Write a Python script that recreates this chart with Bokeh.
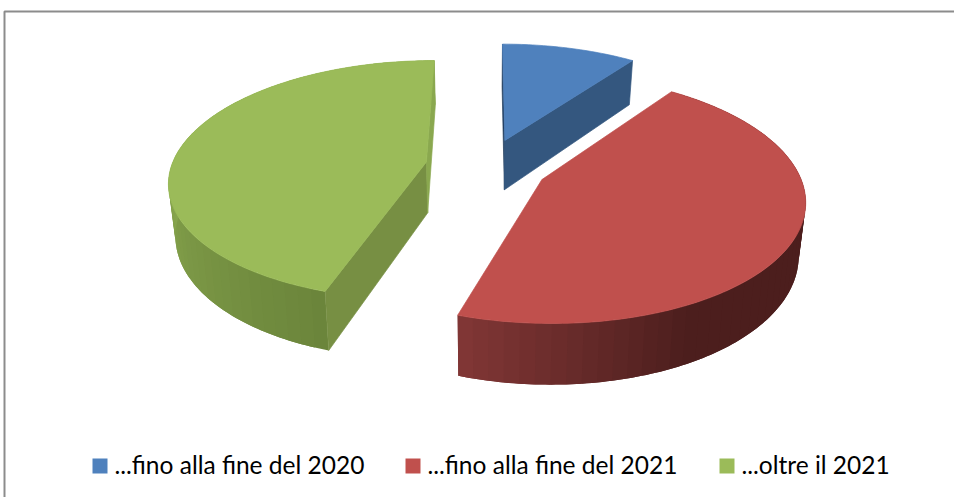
import numpy as np
from bokeh.plotting import figure
from bokeh.models import Range1d
from bokeh.core.properties import value
from bokeh.embed import file_html
from bokeh.resources import INLINE

# data
labels = ["...fino alla fine del 2020", "...fino alla fine del 2021", "...oltre il 2021"]
values = [10, 45, 45]

# style
TOP = ["#4f81bd", "#c0504d", "#9bbb59"]
RADIAL_START = ["#213d5f", None, "#778f43"]
RADIAL_END = ["#34577f", None, "#8aa84f"]
RIM_FROM = {1: (198, "#823736"), 2: (198, "#6b853b")}
RIM_TO = {1: (152, "#4c1e1d"), 2: (270, "#88a64e")}

X0, Y0, A, B, P, D, F, EXPLODE = 486, 166, 255, 118, 0.15, 51, 0.978, 0.24


def project(u, v):
    s = 1 / (1 + P * v)
    return X0 + A * u * s, Y0 - B * v * s, s


def hex2rgb(c):
    return np.array([int(c[i:i + 2], 16) for i in (1, 3, 5)], dtype=float)


def lerp(c1, c2, t):
    r = hex2rgb(c1) * (1 - t) + hex2rgb(c2) * t
    return "#%02x%02x%02x" % tuple(int(round(a)) for a in r)


W, H = 954, 497
p = figure(width=W, height=H, output_backend="svg", toolbar_location=None,
           x_range=Range1d(0, W), y_range=Range1d(H, 0), min_border=0,
           x_axis_location=None, y_axis_location=None, outline_line_color=None)
p.grid.visible = False
p.background_fill_color = "white"

# chart frame
p.line([4, 4, W], [H, 11, 11], line_color="#8c8c8c", line_width=2)

fractions = np.array(values, dtype=float) / sum(values)
edges = np.concatenate([[0], np.cumsum(fractions)]) * 360

for i in (0, 2, 1):
    a0, a1 = edges[i], edges[i + 1]
    mid = np.radians((a0 + a1) / 2)
    ou, ov = EXPLODE * np.sin(mid), EXPLODE * np.cos(mid)
    th = np.radians(np.linspace(a0, a1, int(a1 - a0) + 1))
    x, y, s = project(ou + np.sin(th), ov + np.cos(th))
    xc, yc, sc = project(ou, ov)
    xb = X0 + (x - X0) * F
    yb = y + D * s
    xcb = X0 + (xc - X0) * F
    ycb = yc + D * sc

    # rim: overlapping bands painted in order, so no seams show
    if i in RIM_FROM:
        (af, cf), (at, ct) = RIM_FROM[i], RIM_TO[i]
        step = 3
        for k in range(0, len(th) - 1, step):
            e = min(k + 2 * step, len(th) - 1)
            deg = np.degrees(th[min(k + step // 2, len(th) - 1)])
            t = np.clip((deg - af) / (at - af), 0, 1)
            col = lerp(cf, ct, t)
            xs = np.r_[x[k:e + 1], xb[k:e + 1][::-1]]
            ys = np.r_[y[k:e + 1], yb[k:e + 1][::-1]]
            p.patch(xs, ys, fill_color=col, line_color=None)

    # radial faces
    if RADIAL_START[i]:
        p.patch([xc, x[0], xb[0], xcb], [yc, y[0], yb[0], ycb],
                fill_color=RADIAL_START[i], line_color=RADIAL_START[i], line_width=0.7)
    if RADIAL_END[i]:
        p.patch([xc, x[-1], xb[-1], xcb], [yc, y[-1], yb[-1], ycb],
                fill_color=RADIAL_END[i], line_color=RADIAL_END[i], line_width=0.7)

    # top face
    p.patch(np.r_[xc, x], np.r_[yc, y], fill_color=TOP[i], line_color=TOP[i], line_width=0.7)

# legend
legend_sq_x = [92, 405, 719]
legend_tx_x = [114, 427, 741]
for i in range(3):
    p.rect([legend_sq_x[i] + 7.5], [465.5], width=15, height=15, fill_color=TOP[i], line_color=None)
    p.text([legend_tx_x[i]], [464], text=[labels[i]], text_font=value("Lato"),
           text_font_size="24.5px", text_color="#000000", text_align="left", text_baseline="alphabetic")

open("out.html", "w").write(file_html(p, INLINE))
